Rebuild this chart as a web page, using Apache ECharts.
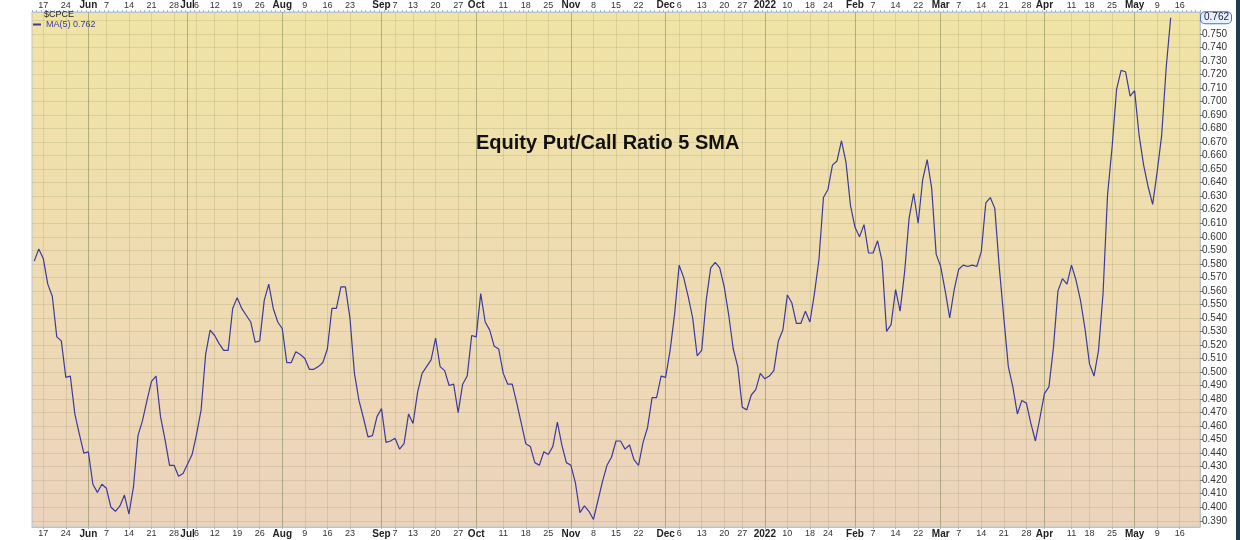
<!DOCTYPE html>
<html>
<head>
<meta charset="utf-8">
<script src="https://cdn.jsdelivr.net/npm/echarts@6/dist/echarts.min.js"></script>
<style>
  html, body { margin: 0; padding: 0; background: #fff; }
  #main { width: 1240px; height: 540px; }
</style>
</head>
<body>
<div id="main"></div>
<script>
  // trading calendar of the chart (one category per market day)
  var startDate = '2021-05-13';
  var dayCount = 259;
  var holidays = ['2021-05-31', '2021-07-05', '2021-09-06', '2021-11-25',
                  '2021-12-24', '2022-01-17', '2022-02-21', '2022-04-15'];
  var monthNames = ['Jan', 'Feb', 'Mar', 'Apr', 'May', 'Jun', 'Jul', 'Aug', 'Sep', 'Oct', 'Nov', 'Dec'];

  // $CPCE 5 day SMA, one value per trading day from startDate
  var maValues = [
    0.582, 0.591, 0.584, 0.565, 0.556, 0.526, 0.523, 0.496, 0.497, 0.469,
    0.454, 0.440, 0.441, 0.417, 0.411, 0.417, 0.414, 0.400, 0.397, 0.401,
    0.409, 0.395, 0.415, 0.453, 0.464, 0.479, 0.493, 0.497, 0.467, 0.450,
    0.431, 0.431, 0.423, 0.425, 0.432, 0.439, 0.454, 0.472, 0.513, 0.531,
    0.527, 0.521, 0.516, 0.516, 0.547, 0.555, 0.547, 0.542, 0.537, 0.522,
    0.523, 0.553, 0.565, 0.547, 0.537, 0.532, 0.507, 0.507, 0.515, 0.513,
    0.510, 0.502, 0.502, 0.504, 0.507, 0.517, 0.547, 0.547, 0.563, 0.563,
    0.540, 0.499, 0.479, 0.466, 0.452, 0.453, 0.467, 0.473, 0.448, 0.449,
    0.451, 0.443, 0.447, 0.469, 0.462, 0.485, 0.499, 0.504, 0.509, 0.525,
    0.504, 0.501, 0.490, 0.491, 0.470, 0.491, 0.497, 0.527, 0.526, 0.558,
    0.537, 0.531, 0.519, 0.517, 0.499, 0.491, 0.491, 0.477, 0.462, 0.447,
    0.445, 0.433, 0.431, 0.441, 0.439, 0.445, 0.463, 0.446, 0.433, 0.431,
    0.418, 0.396, 0.401, 0.397, 0.391, 0.405, 0.419, 0.431, 0.437, 0.449,
    0.449, 0.443, 0.446, 0.435, 0.431, 0.448, 0.459, 0.481, 0.481, 0.497,
    0.496, 0.516, 0.543, 0.579, 0.570, 0.556, 0.540, 0.512, 0.516, 0.553,
    0.577, 0.581, 0.577, 0.563, 0.542, 0.517, 0.504, 0.474, 0.472, 0.483,
    0.487, 0.499, 0.495, 0.497, 0.501, 0.523, 0.531, 0.557, 0.551, 0.536,
    0.536, 0.545, 0.537, 0.558, 0.583, 0.629, 0.635, 0.653, 0.656, 0.671,
    0.655, 0.623, 0.607, 0.600, 0.609, 0.588, 0.588, 0.597, 0.582, 0.530,
    0.535, 0.561, 0.545, 0.574, 0.614, 0.632, 0.610, 0.642, 0.657, 0.636,
    0.587, 0.578, 0.560, 0.540, 0.561, 0.576, 0.579, 0.578, 0.579, 0.578,
    0.589, 0.625, 0.629, 0.621, 0.577, 0.540, 0.504, 0.489, 0.469, 0.479,
    0.477, 0.462, 0.449, 0.466, 0.484, 0.489, 0.518, 0.560, 0.569, 0.565,
    0.579, 0.568, 0.553, 0.532, 0.506, 0.497, 0.516, 0.558, 0.631, 0.666,
    0.709, 0.723, 0.722, 0.704, 0.708, 0.675, 0.653, 0.637, 0.624, 0.648,
    0.675, 0.725, 0.762
  ];

  var yMin = 0.3854;
  var yMax = 0.7662;

  // build the market days
  var dates = [];
  var d = new Date(startDate + 'T00:00:00Z');
  while (dates.length < dayCount) {
    var wd = d.getUTCDay();
    var iso = d.toISOString().slice(0, 10);
    if (wd !== 0 && wd !== 6 && holidays.indexOf(iso) < 0) dates.push(new Date(d.getTime()));
    d = new Date(d.getTime() + 86400000);
  }
  var categories = dates.map(function (dt) { return dt.toISOString().slice(0, 10); });

  var isMonth = [], isWeek = [];
  dates.forEach(function (dt, i) {
    var prev = dates[i - 1];
    isMonth[i] = !!prev && dt.getUTCMonth() !== prev.getUTCMonth();
    isWeek[i] = !!prev && dt.getUTCDay() <= prev.getUTCDay();
  });
  // month name on first day of month, day number on first day of week
  // (week label dropped when a month label sits right next to it)
  var tickLabels = dates.map(function (dt, i) {
    if (isMonth[i]) return dt.getUTCMonth() === 0 ? '{m|' + dt.getUTCFullYear() + '}' : '{m|' + monthNames[dt.getUTCMonth()] + '}';
    if (isWeek[i] && !isMonth[i - 1] && !isMonth[i + 1] && !isMonth[i + 2]) return String(dt.getUTCDate());
    return '';
  });

  var lastVal = maValues[maValues.length - 1];
  var hasLabel = function (idx) { return tickLabels[idx] !== ''; };

  var labelStyle = {
    fontSize: 9,
    color: '#333',
    margin: 2,
    interval: hasLabel,
    formatter: function (v, idx) { return tickLabels[idx]; },
    rich: { m: { fontSize: 10, fontWeight: 'bold', color: '#222' } }
  };

  // darker grid lines at month starts
  var monthLines = [];
  categories.forEach(function (c, i) {
    if (isMonth[i]) monthLines.push({ xAxis: c });
  });

  var myChart = echarts.init(document.getElementById('main'));
  var option = {
    animation: false,
    textStyle: { fontFamily: 'Liberation Sans, Arial, sans-serif' },
    title: [{
      text: 'Equity Put/Call Ratio 5 SMA',
      left: 476,
      top: 133,
      padding: 0,
      textStyle: { fontSize: 20, fontWeight: 'bold', color: '#111' }
    }, {
      text: '$CPCE',
      left: 44,
      top: 10,
      padding: 0,
      textStyle: { fontSize: 9, fontWeight: 'normal', color: '#222' }
    }],
    legend: {
      data: ['MA(5)'],
      left: 33,
      top: 20,
      padding: 0,
      icon: 'rect',
      itemWidth: 8,
      itemHeight: 2,
      textStyle: { fontSize: 9, color: '#3b3b9e' },
      formatter: function (name) { return name + ' ' + lastVal.toFixed(3); }
    },
    grid: {
      left: 32,
      right: 40,
      top: 10,
      bottom: 13,
      show: true,
      borderColor: '#b9c6c9',
      borderWidth: 1,
      backgroundColor: new echarts.graphic.LinearGradient(0, 0, 0, 1, [
        { offset: 0, color: '#f1e4a5' },
        { offset: 1, color: '#ecd3bd' }
      ])
    },
    xAxis: [{
      type: 'category',
      data: categories,
      boundaryGap: true,
      position: 'bottom',
      axisLine: { lineStyle: { color: '#b9c6c9' } },
      axisTick: { show: true, interval: hasLabel, alignWithLabel: true, length: 2, lineStyle: { color: '#a9babe' } },
      axisLabel: labelStyle,
      splitLine: {
        show: true,
        alignWithLabel: true,
        interval: hasLabel,
        lineStyle: { color: 'rgba(140,140,90,0.22)' }
      }
    }, {
      type: 'category',
      data: categories,
      boundaryGap: true,
      position: 'top',
      axisLine: { lineStyle: { color: '#b9c6c9' } },
      axisTick: { show: true, interval: 0, length: 2, lineStyle: { color: '#a9babe' } },
      axisLabel: labelStyle,
      splitLine: { show: false }
    }],
    yAxis: {
      type: 'value',
      position: 'right',
      min: yMin,
      max: yMax,
      splitNumber: 38,
      minInterval: 0.01,
      maxInterval: 0.01,
      axisLine: { show: true, lineStyle: { color: '#b9c6c9' } },
      axisTick: { show: true, length: 3, lineStyle: { color: '#777' } },
      axisLabel: {
        margin: 2,
        fontSize: 10,
        color: '#333',
        showMinLabel: false,
        showMaxLabel: false,
        formatter: function (v) { return v.toFixed(3); }
      },
      splitLine: { lineStyle: { color: 'rgba(140,140,90,0.22)' } }
    },
    graphic: [{
      type: 'rect',
      right: 0,
      top: 0,
      shape: { width: 4, height: 540 },
      style: { fill: '#1c3d4e' }
    }],
    series: [{
      name: 'MA(5)',
      type: 'line',
      xAxisIndex: 0,
      data: maValues,
      showSymbol: false,
      symbol: 'none',
      color: '#3b3b9e',
      z: 5,
      lineStyle: { color: '#3b3b9e', width: 1.2 },
      markLine: {
        silent: true,
        symbol: ['none', 'none'],
        precision: 3,
        data: [{
          yAxis: lastVal,
          lineStyle: { color: 'rgba(0,0,0,0)', width: 0 },
          label: {
            show: true,
            position: 'end',
            distance: 1,
            formatter: lastVal.toFixed(3),
            fontSize: 10,
            color: '#223',
            backgroundColor: '#e8f0ff',
            borderColor: '#4a6fd0',
            borderWidth: 1,
            borderRadius: 4,
            padding: [1, 2, 0, 3]
          }
        }]
      }
    }, {
      name: 'monthGrid',
      type: 'line',
      xAxisIndex: 0,
      data: [],
      z: 1,
      markLine: {
        silent: true,
        symbol: ['none', 'none'],
        label: { show: false },
        lineStyle: { color: 'rgba(110,130,80,0.4)', width: 1, type: 'solid' },
        data: monthLines
      }
    }]
  };
  myChart.setOption(option);
</script>
</body>
</html>
